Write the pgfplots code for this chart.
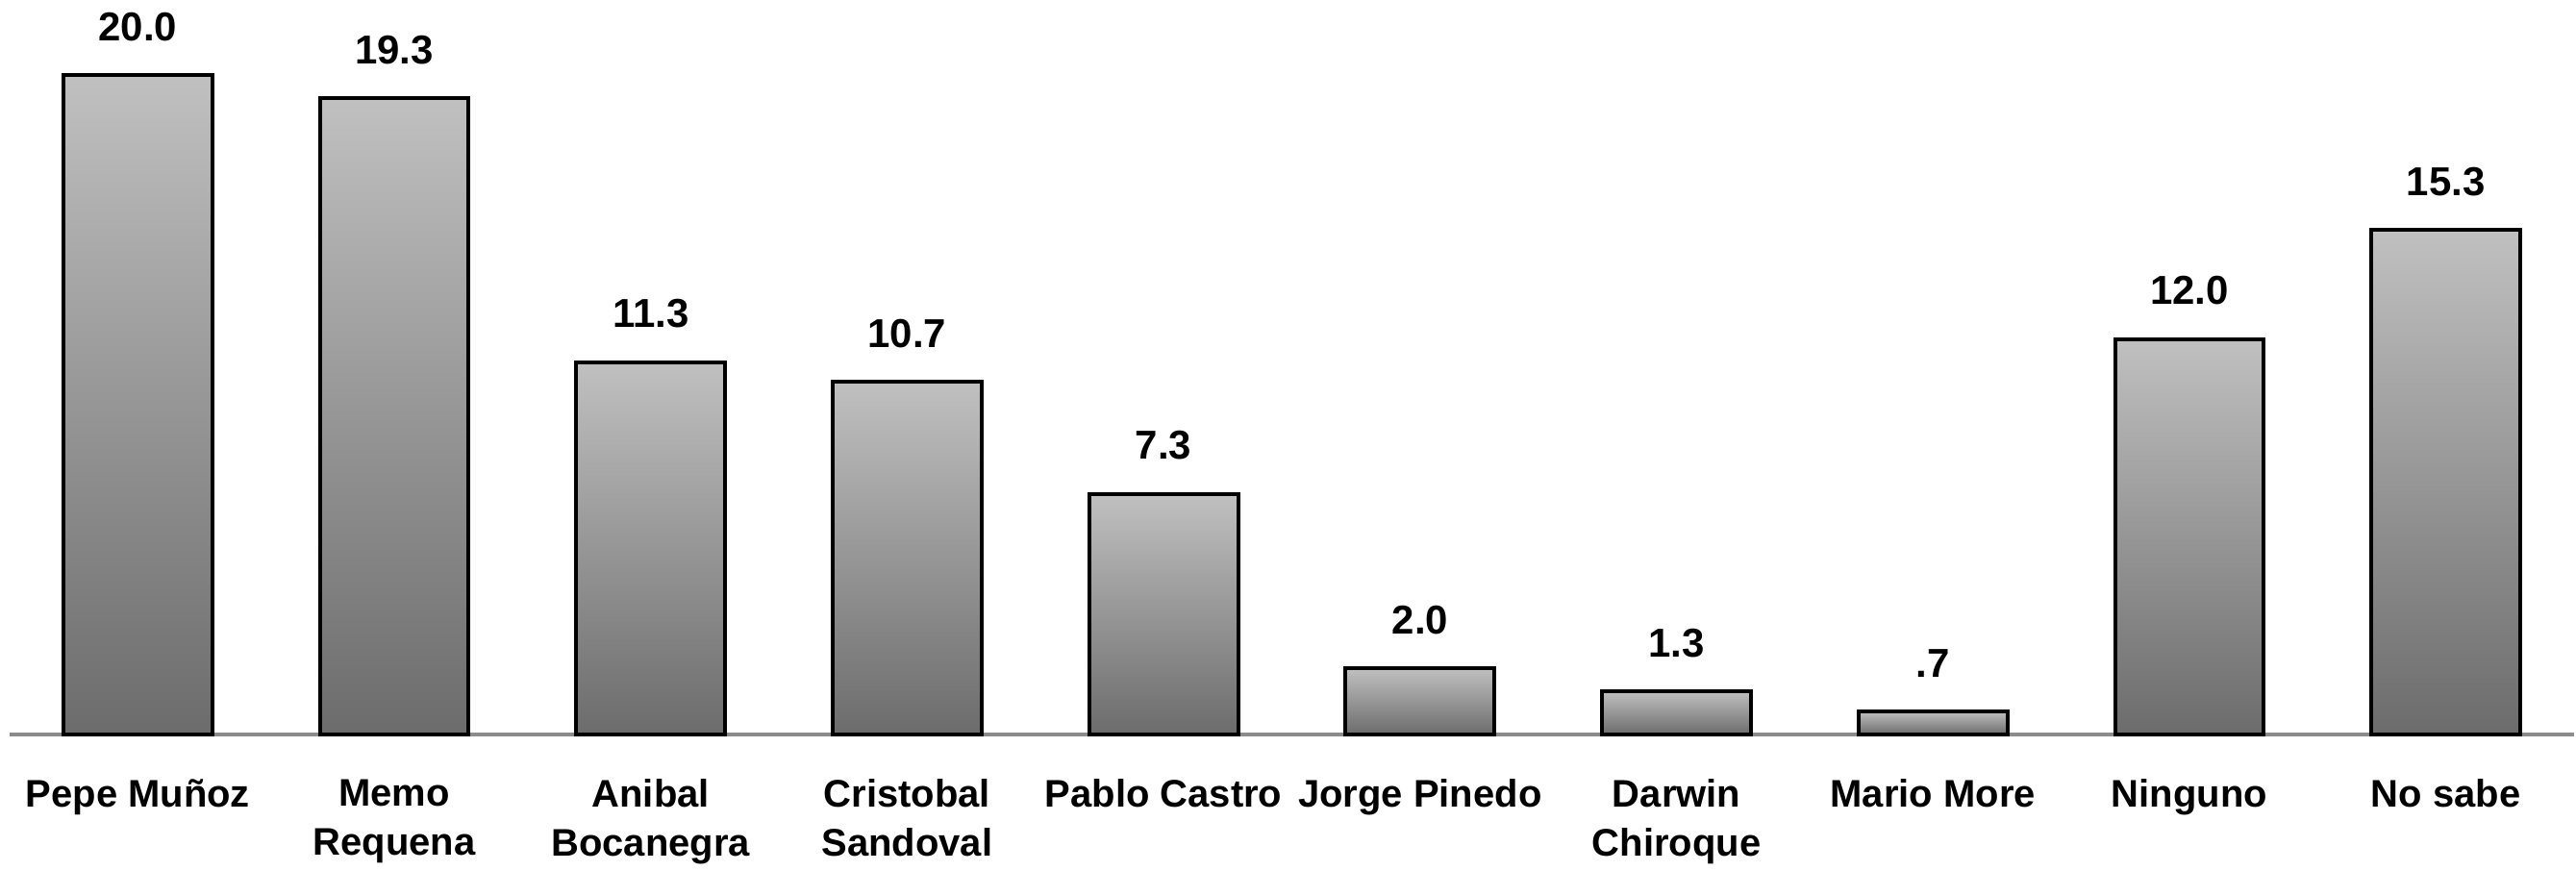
\documentclass[border=0pt]{standalone}
\usepackage{fontspec}
\setmainfont{Liberation Sans}
\usepackage{pgfplots}
\pgfplotsset{compat=1.18}
\begin{document}
\begin{tikzpicture}
\begin{axis}[
  scale only axis,
  width=667.25pt, height=192pt,
  xmin=-0.5, xmax=9.5, ymin=0, ymax=22.39,
  axis x line*=bottom, hide y axis,
  axis line style={draw=black!45, line width=1pt},
  x axis line style={-},
  xtick={0,...,9}, major tick length=0pt,
  xticklabels={Pepe Muñoz, Memo\\Requena, Anibal\\Bocanegra, Cristobal\\Sandoval, Pablo Castro, Jorge Pinedo, Darwin\\Chiroque, Mario More, Ninguno, No sabe},
  xticklabel style={font=\bfseries\fontsize{10}{12.75}\selectfont, align=center, inner ysep=0pt, yshift=-11.5pt},
  clip=false,
  colormap={bargray}{rgb255=(108,108,108) rgb255=(192,192,192)},
]
% gradient fill of each bar (x, y, colour position 0=bottom 1=top)
\addplot[patch, patch type=rectangle, shader=interp, point meta=explicit,
  point meta min=0, point meta max=1] table[meta=c] {
x y c
-0.29 0 0
0.29 0 0
0.29 20.0 1
-0.29 20.0 1
0.71 0 0
1.29 0 0
1.29 19.3 1
0.71 19.3 1
1.71 0 0
2.29 0 0
2.29 11.3 1
1.71 11.3 1
2.71 0 0
3.29 0 0
3.29 10.7 1
2.71 10.7 1
3.71 0 0
4.29 0 0
4.29 7.3 1
3.71 7.3 1
4.71 0 0
5.29 0 0
5.29 2.0 1
4.71 2.0 1
5.71 0 0
6.29 0 0
6.29 1.3 1
5.71 1.3 1
6.71 0 0
7.29 0 0
7.29 0.7 1
6.71 0.7 1
7.71 0 0
8.29 0 0
8.29 12.0 1
7.71 12.0 1
8.71 0 0
9.29 0 0
9.29 15.3 1
8.71 15.3 1
};
% outlines and value labels
\addplot[ybar, bar width=38.75pt, draw=black, line width=1pt, fill=none,
  nodes near coords, point meta=explicit symbolic,
  every node near coord/.append style={font=\bfseries\fontsize{10.5}{12}\selectfont, yshift=5pt}]
  coordinates {(0,20.0) [20.0] (1,19.3) [19.3] (2,11.3) [11.3] (3,10.7) [10.7] (4,7.3) [7.3]
               (5,2.0) [2.0] (6,1.3) [1.3] (7,0.7) [.7] (8,12.0) [12.0] (9,15.3) [15.3]};
\end{axis}
\path ([xshift=-2.5pt,yshift=-35.5pt]current axis.south west) rectangle (current axis.south west);
\end{tikzpicture}
\end{document}
